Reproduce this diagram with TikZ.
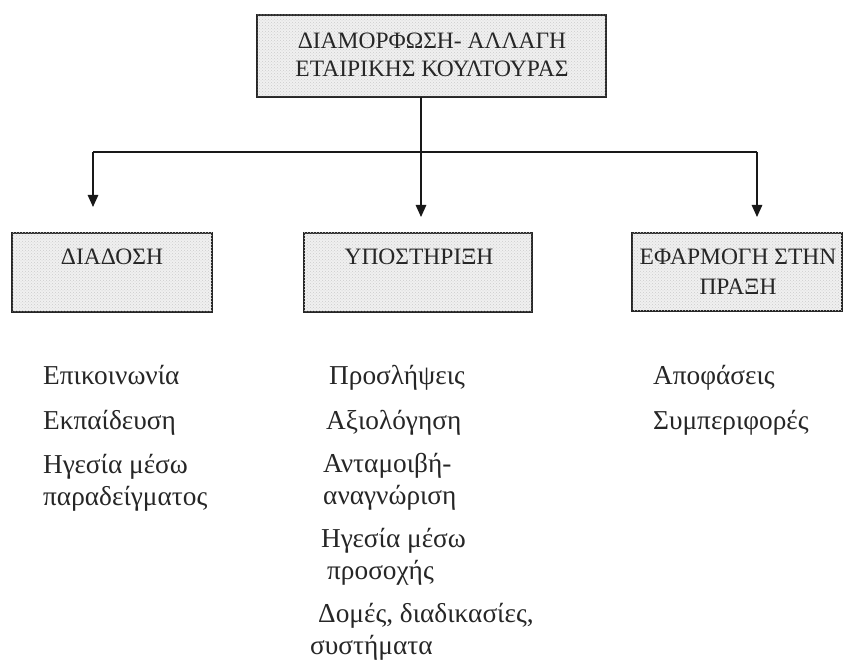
\documentclass[tikz,border=0pt]{standalone}
\usepackage{fontspec}
\setmainfont{Liberation Serif}
\usetikzlibrary{arrows.meta,patterns}
\begin{document}
\begin{tikzpicture}[x=1pt,y=-1pt,
  boxshape/.style={draw=black!85,line width=1.3pt,fill=gray!12,
    postaction={pattern=crosshatch dots,pattern color=gray!40}},
  boxtext/.style={inner sep=0pt,align=center,font=\fontsize{23.5}{30}\selectfont,text=black!85},
  item/.style={inner sep=0pt,anchor=base west,font=\fontsize{27.3}{32}\selectfont,text=black!85},
  conn/.style={line width=1.3pt,draw=black!90},
  arr/.style={conn,-{Triangle[length=12pt,width=10.5pt]}}]
\useasboundingbox (0,0) rectangle (844,660);
% boxes
\path[boxshape] (257,15) rectangle (606,97);
\node[inner sep=0pt,minimum width=349pt,minimum height=82pt] (top) at (431.5,56) {};
\node[boxtext,font=\fontsize{23.5}{28}\selectfont] (topT) at (432,55) {ΔΙΑΜΟΡΦΩΣΗ- ΑΛΛΑΓΗ\\ΕΤΑΙΡΙΚΗΣ ΚΟΥΛΤΟΥΡΑΣ};
\path[boxshape] (12,233) rectangle (212,312);
\node[inner sep=0pt,minimum width=200pt,minimum height=79pt] (L) at (112,272.5) {};
\node[boxtext] (LT) at (112,257) {ΔΙΑΔΟΣΗ};
\path[boxshape] (304,233) rectangle (532,312);
\node[inner sep=0pt,minimum width=228pt,minimum height=79pt] (M) at (418,272.5) {};
\node[boxtext] (MT) at (419,257) {ΥΠΟΣΤΗΡΙΞΗ};
\path[boxshape] (632,233) rectangle (842,311);
\node[inner sep=0pt,minimum width=210pt,minimum height=78pt] (R) at (737,272) {};
\node[boxtext] (RT) at (738,272) {ΕΦΑΡΜΟΓΗ ΣΤΗΝ\\ΠΡΑΞΗ};
% connectors
\coordinate (jL) at (93,152);
\coordinate (jR) at (757,152);
\coordinate (tipL) at (93,207);
\coordinate (tipM) at (421,217);
\coordinate (tipR) at (757,217);
\draw[arr] (top.south -| tipM) -- (tipM);
\draw[conn] (jL) -- (jR);
\draw[arr] (jL) -- (tipL);
\draw[arr] (jR) -- (tipR);
% lists
\node[item] (l1) at (43,385) {Επικοινωνία};
\node[item] (l2) at (43,430) {Εκπαίδευση};
\node[item] (l3) at (43,473) {Ηγεσία μέσω};
\node[item] (l4) at (43,505) {παραδείγματος};
\node[item] (m1) at (329,385) {Προσλήψεις};
\node[item] (m2) at (326,430) {Αξιολόγηση};
\node[item] (m3) at (323,472) {Ανταμοιβή-};
\node[item] (m4) at (323,504) {αναγνώριση};
\node[item] (m5) at (321,547) {Ηγεσία μέσω};
\node[item] (m6) at (327,579) {προσοχής};
\node[item] (m7) at (318,622) {Δομές, διαδικασίες,};
\node[item] (m8) at (310,654) {συστήματα};
\node[item] (r1) at (653,385) {Αποφάσεις};
\node[item] (r2) at (653,430) {Συμπεριφορές};
\end{tikzpicture}
\end{document}
